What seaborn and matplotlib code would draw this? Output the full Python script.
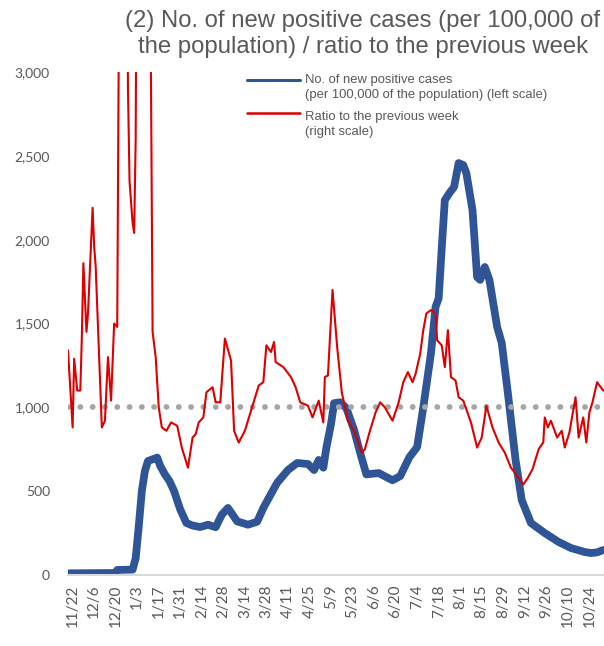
import matplotlib
matplotlib.use("Agg")
import matplotlib.pyplot as plt
from matplotlib.lines import Line2D
from matplotlib.ticker import FuncFormatter
import pandas as pd
import seaborn as sns

# New positive cases per 100,000 population (left scale)
case_dates = [
    "2020-11-19", "2020-12-20", "2020-12-21", "2020-12-31", "2021-01-02", "2021-01-04",
    "2021-01-06", "2021-01-08", "2021-01-10", "2021-01-13", "2021-01-16", "2021-01-18",
    "2021-01-21", "2021-01-24", "2021-01-27", "2021-01-31", "2021-02-04", "2021-02-08",
    "2021-02-13", "2021-02-18", "2021-02-23", "2021-02-27", "2021-03-03", "2021-03-06",
    "2021-03-09", "2021-03-16", "2021-03-22", "2021-03-26", "2021-03-29", "2021-04-04",
    "2021-04-11", "2021-04-17", "2021-04-24", "2021-04-28", "2021-05-01", "2021-05-04",
    "2021-05-06", "2021-05-09", "2021-05-11", "2021-05-15", "2021-05-19", "2021-05-24",
    "2021-05-28", "2021-06-01", "2021-06-09", "2021-06-18", "2021-06-23", "2021-06-29",
    "2021-07-04", "2021-07-08", "2021-07-13", "2021-07-16", "2021-07-18", "2021-07-20",
    "2021-07-22", "2021-07-25", "2021-07-28", "2021-07-31", "2021-08-03", "2021-08-05",
    "2021-08-09", "2021-08-12", "2021-08-14", "2021-08-17", "2021-08-20", "2021-08-25",
    "2021-08-28", "2021-09-01", "2021-09-06", "2021-09-10", "2021-09-16", "2021-09-25",
    "2021-10-04", "2021-10-12", "2021-10-21", "2021-10-25", "2021-10-29", "2021-11-02",
]
case_values = [
    10, 12, 30, 32, 100, 290,
    500, 620, 680, 690, 700, 650,
    600, 560, 500, 390, 310, 295,
    286, 300, 285, 360, 400, 360,
    320, 300, 318, 400, 450, 550,
    626, 668, 662, 626, 686, 640,
    760, 900, 1025, 1030, 995, 865,
    727, 600, 608, 565, 590, 703,
    763, 1000, 1323, 1600, 1650, 1950,
    2236, 2278, 2314, 2457, 2445, 2397,
    2176, 1777, 1760, 1837, 1760, 1480,
    1384, 1085, 686, 447, 310, 250,
    197, 161, 137, 131, 135, 149,
]

# Ratio to the previous week (right scale)
ratio_dates = [
    "2020-11-19", "2020-11-22", "2020-11-23", "2020-11-25", "2020-11-27", "2020-11-28",
    "2020-11-29", "2020-12-01", "2020-12-02", "2020-12-05", "2020-12-06", "2020-12-07",
    "2020-12-11", "2020-12-13", "2020-12-15", "2020-12-17", "2020-12-19", "2020-12-21",
    "2020-12-23", "2020-12-26", "2020-12-28", "2020-12-29", "2020-12-31", "2021-01-01",
    "2021-01-02", "2021-01-03", "2021-01-07", "2021-01-11", "2021-01-12", "2021-01-13",
    "2021-01-15", "2021-01-17", "2021-01-19", "2021-01-22", "2021-01-25", "2021-01-29",
    "2021-02-01", "2021-02-05", "2021-02-08", "2021-02-10", "2021-02-12", "2021-02-15",
    "2021-02-17", "2021-02-21", "2021-02-23", "2021-02-26", "2021-03-01", "2021-03-05",
    "2021-03-07", "2021-03-10", "2021-03-14", "2021-03-18", "2021-03-23", "2021-03-26",
    "2021-03-28", "2021-03-31", "2021-04-02", "2021-04-03", "2021-04-08", "2021-04-13",
    "2021-04-16", "2021-04-19", "2021-04-24", "2021-04-27", "2021-05-01", "2021-05-04",
    "2021-05-05", "2021-05-07", "2021-05-10", "2021-05-13", "2021-05-16", "2021-05-20",
    "2021-05-24", "2021-05-29", "2021-05-31", "2021-06-03", "2021-06-07", "2021-06-10",
    "2021-06-13", "2021-06-18", "2021-06-22", "2021-06-25", "2021-06-28", "2021-07-01",
    "2021-07-03", "2021-07-06", "2021-07-08", "2021-07-10", "2021-07-13", "2021-07-16",
    "2021-07-17", "2021-07-20", "2021-07-22", "2021-07-24", "2021-07-26", "2021-07-29",
    "2021-07-31", "2021-08-03", "2021-08-08", "2021-08-12", "2021-08-15", "2021-08-18",
    "2021-08-22", "2021-08-26", "2021-08-30", "2021-09-03", "2021-09-08", "2021-09-11",
    "2021-09-14", "2021-09-17", "2021-09-21", "2021-09-24", "2021-09-25", "2021-09-27",
    "2021-09-29", "2021-10-03", "2021-10-06", "2021-10-08", "2021-10-11", "2021-10-15",
    "2021-10-17", "2021-10-20", "2021-10-22", "2021-10-24", "2021-10-26", "2021-10-29",
    "2021-11-02",
]
ratio_values = [
    1.34, 0.88, 1.29, 1.10, 1.10, 1.42,
    1.86, 1.45, 1.56, 2.19, 1.96, 1.84,
    0.88, 0.92, 1.30, 1.04, 1.50, 1.48,
    4.80, 5.00, 2.90, 2.35, 2.10, 2.04,
    2.60, 4.50, 9.00, 4.00, 2.90, 1.45,
    1.30, 1.00, 0.88, 0.86, 0.91, 0.89,
    0.76, 0.64, 0.82, 0.84, 0.91, 0.94,
    1.09, 1.12, 1.03, 1.03, 1.41, 1.28,
    0.86, 0.79, 0.86, 0.98, 1.13, 1.15,
    1.37, 1.33, 1.39, 1.27, 1.24, 1.18,
    1.12, 1.03, 1.01, 0.94, 1.04, 0.91,
    1.18, 1.19, 1.70, 1.36, 1.09, 0.92,
    0.86, 0.73, 0.75, 0.85, 0.97, 1.03,
    1.00, 0.92, 1.03, 1.15, 1.21, 1.15,
    1.20, 1.32, 1.46, 1.56, 1.58, 1.56,
    1.40, 1.37, 1.24, 1.46, 1.18, 1.16,
    1.06, 1.04, 0.91, 0.76, 0.82, 1.01,
    0.88, 0.79, 0.73, 0.64, 0.58, 0.54,
    0.58, 0.63, 0.75, 0.79, 0.94, 0.88,
    0.92, 0.82, 0.86, 0.76, 0.85, 1.06,
    0.82, 0.94, 0.79, 0.97, 1.03, 1.15,
    1.10,
]

tick_labels = [
    "11/22", "12/6", "12/20", "1/3", "1/17", "1/31", "2/14", "2/28", "3/14",
    "3/28", "4/11", "4/25", "5/9", "5/23", "6/6", "6/20", "7/4", "7/18",
    "8/1", "8/15", "8/29", "9/12", "9/26", "10/10", "10/24",
]

title = "(2) No. of new positive cases (per 100,000 of\nthe population) / ratio to the previous week"
case_label = ["No. of new positive cases", "(per 100,000 of the population) (left scale)"]
ratio_label = ["Ratio to the previous week", "(right scale)"]

cases = pd.DataFrame({"date": pd.to_datetime(case_dates), "value": case_values})
ratio = pd.DataFrame({"date": pd.to_datetime(ratio_dates), "value": ratio_values})
tick_pos = pd.date_range("2020-11-22", periods=len(tick_labels), freq="14D")

sns.set_style("white")
plt.rcParams["font.family"] = ["Liberation Sans", "DejaVu Sans"]

BLUE = "#2F5597"
RED = "#DC0000"
GREY_TXT = "#595959"

W, H = 604, 646
fig = plt.figure(figsize=(W / 100, H / 100), dpi=100)
ax = fig.add_axes([68 / W, 1 - 575 / H, (W - 68) / W, 503 / H])

sns.lineplot(data=cases, x="date", y="value", ax=ax, color=BLUE, linewidth=5.6,
             solid_joinstyle="round")
ax.set_ylim(0, 3000)
ax.set_xlim(pd.Timestamp("2020-11-19"), pd.Timestamp("2021-11-02 12:00"))
ax.set_yticks(range(0, 3001, 500))
ax.yaxis.set_major_formatter(FuncFormatter(lambda v, p: f"{int(v):,}"))
ax.set_xticks(tick_pos)
ax.set_xticklabels(tick_labels, rotation=90)
ax.set_xlabel("")
ax.set_ylabel("")
ax.tick_params(axis="y", length=0, pad=13, labelsize=10, labelcolor=GREY_TXT)
ax.tick_params(axis="x", length=0, pad=7, labelsize=11, labelcolor=GREY_TXT)
for lbl in ax.get_yticklabels() + ax.get_xticklabels():
    lbl.set_family(["Lato", "DejaVu Sans"])
for side in ("left", "right", "top"):
    ax.spines[side].set_visible(False)
ax.spines["bottom"].set_color("#D9D9D9")
ax.spines["bottom"].set_linewidth(1.5)

ax2 = ax.twinx()
ax2.set_ylim(0, 3)
ax2.axhline(1.0, color="#A6A6A6", linewidth=4.2, linestyle=(0, (0.01, 2.1)),
            dash_capstyle="round")
sns.lineplot(data=ratio, x="date", y="value", ax=ax2, color=RED, linewidth=1.5)
ax2.set_xlim(ax.get_xlim())
ax2.axis("off")

fig.text(363 / W, 1 - 10 / H, title, ha="center", va="top", fontsize=17.2,
         color=GREY_TXT, linespacing=1.24)

# legend
fig.add_artist(Line2D([247 / W, 300 / W], [1 - 80 / H, 1 - 80 / H],
                      color=BLUE, linewidth=2.2, transform=fig.transFigure))
fig.add_artist(Line2D([247 / W, 300 / W], [1 - 113 / H, 1 - 113 / H],
                      color=RED, linewidth=1.8, transform=fig.transFigure))
for y, txt in zip((80, 95), case_label):
    fig.text(305 / W, 1 - y / H, txt, ha="left", va="center", fontsize=9.4, color=GREY_TXT)
for y, txt in zip((117, 132), ratio_label):
    fig.text(305 / W, 1 - y / H, txt, ha="left", va="center", fontsize=9.4, color=GREY_TXT)

fig.savefig("out.png", dpi=100, facecolor="white")
